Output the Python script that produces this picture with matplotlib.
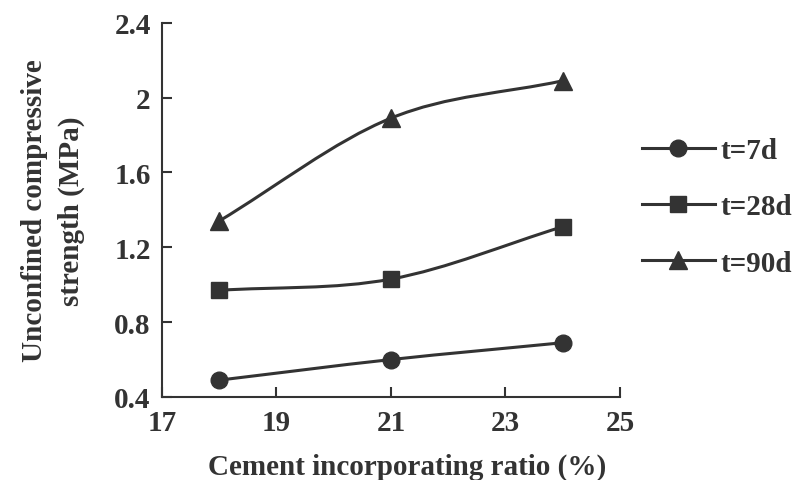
import matplotlib
matplotlib.use("Agg")
import matplotlib.pyplot as plt
import matplotlib.ticker as mticker
from matplotlib.path import Path
from matplotlib.patches import PathPatch
import numpy as np

# datos
ratio = [18, 21, 24]
t7 = [0.49, 0.60, 0.69]
t28 = [0.97, 1.03, 1.31]
t90 = [1.34, 1.89, 2.09]
series = [("t=7d", t7, "o", 12), ("t=28d", t28, "s", 11.5), ("t=90d", t90, "^", 13)]
xticks = [17, 19, 21, 23, 25]
yticks = [0.4, 0.8, 1.2, 1.6, 2.0, 2.4]

col = "#333333"
fs = 21
plt.rcParams["font.family"] = ["Liberation Serif", "DejaVu Serif"]
plt.rcParams["font.weight"] = "bold"


# curva suave (Catmull-Rom como Bezier) entre los puntos
def smooth_path(x, y):
    x = np.asarray(x, float)
    y = np.asarray(y, float)
    n = len(x)
    m = np.zeros(n)
    m[0] = (y[1] - y[0]) / (x[1] - x[0])
    m[-1] = (y[-1] - y[-2]) / (x[-1] - x[-2])
    for i in range(1, n - 1):
        m[i] = (y[i + 1] - y[i - 1]) / (x[i + 1] - x[i - 1])
    verts = [(x[0], y[0])]
    codes = [Path.MOVETO]
    for i in range(n - 1):
        h = (x[i + 1] - x[i]) / 3.0
        verts += [(x[i] + h, y[i] + m[i] * h),
                  (x[i + 1] - h, y[i + 1] - m[i + 1] * h),
                  (x[i + 1], y[i + 1])]
        codes += [Path.CURVE4] * 3
    return Path(verts, codes)


fig = plt.figure(figsize=(8.01, 4.81), dpi=100)
ax = fig.add_axes([0.202, 0.1726, 0.572, 0.778])

for name, vals, mk, ms in series:
    ax.add_patch(PathPatch(smooth_path(ratio, vals), fill=False, edgecolor=col, lw=2.2))
    ax.plot(ratio, vals, linestyle="none", marker=mk, ms=ms, color=col, zorder=3)
    # solo para la leyenda
    ax.plot([], [], "-", marker=mk, ms=ms, color=col, lw=2.2, label=name)

ax.set_xlim(17, 25)
ax.set_ylim(0.4, 2.4)
ax.set_xticks(xticks)
ax.set_yticks(yticks)
ax.yaxis.set_major_formatter(mticker.FuncFormatter(lambda v, p: "%g" % v))
for s in ["top", "right"]:
    ax.spines[s].set_visible(False)
for s in ["left", "bottom"]:
    ax.spines[s].set_color(col)
    ax.spines[s].set_linewidth(1.5)
ax.tick_params(direction="in", length=7, width=1.5, color=col, labelsize=fs,
               labelcolor=col)
ax.tick_params(axis="x", pad=8.5)
ax.tick_params(axis="y", pad=8)

ax.set_xlabel("Cement incorporating ratio (%)", fontsize=fs, color=col,
              fontweight="bold")
ax.xaxis.set_label_coords(0.535, -0.148)
ax.set_ylabel("Unconfined compressive\nstrength (MPa)", fontsize=fs, color=col,
              fontweight="bold", linespacing=1.45)
ax.yaxis.set_label_coords(-0.168, 0.5)

leg = ax.legend(loc="center left", bbox_to_anchor=(1.048, 0.508), frameon=False,
                borderpad=0, borderaxespad=0, handlelength=2.5, handletextpad=0.2,
                labelspacing=1.0, fontsize=fs)
for t in leg.get_texts():
    t.set_color(col)

fig.savefig("out.png", dpi=100)
